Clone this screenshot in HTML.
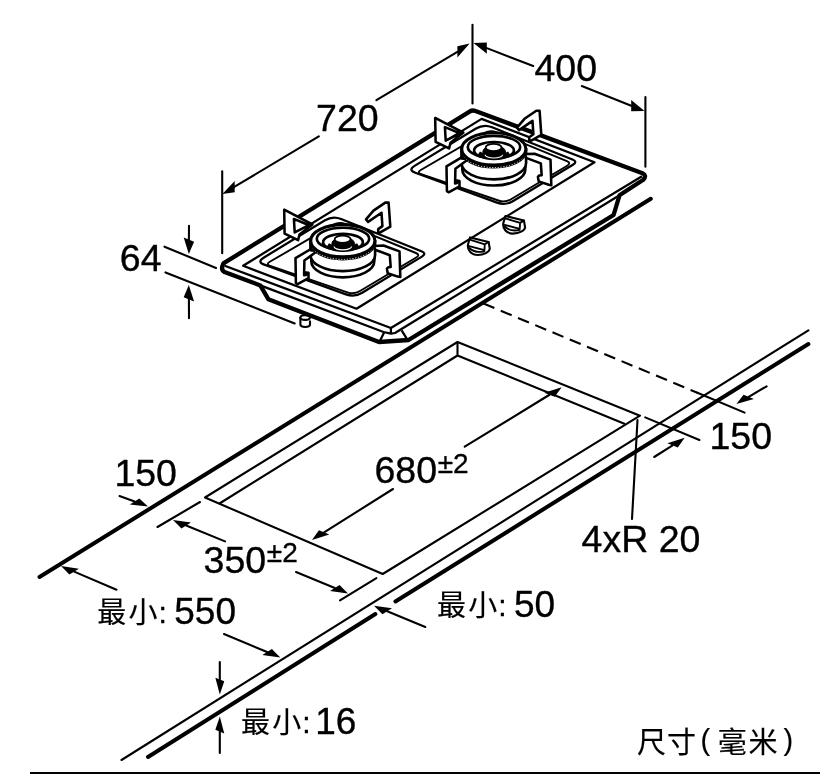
<!DOCTYPE html>
<html lang="zh"><head><meta charset="utf-8"><title>尺寸(毫米)</title>
<style>
html,body{margin:0;padding:0;background:#fff;}
body{width:836px;height:774px;overflow:hidden;}
svg{display:block;will-change:transform;}
svg text{font-family:"Liberation Sans","Noto Sans CJK SC",sans-serif;fill:#000;stroke:#000;stroke-width:0.35px;}
svg text.c{stroke-width:0.15px;}
svg text .n{stroke-width:0.35px;}
</style></head>
<body>
<svg width="836" height="774" viewBox="0 0 836 774" stroke="#000" fill="none" stroke-linejoin="round">
<rect width="836" height="774" fill="#fff" stroke="none"/>
<line x1="39.5" y1="577" x2="650.8" y2="198.8" stroke-width="4.0" stroke-linecap="round" />
<line x1="121.5" y1="760" x2="808.4" y2="330.3" stroke-width="2.1" stroke-linecap="round" />
<line x1="148" y1="757" x2="375.4" y2="614" stroke-width="4.0" stroke-linecap="round" />
<line x1="395.4" y1="601.5" x2="808.4" y2="344" stroke-width="4.0" stroke-linecap="round" />
<path d="M205,497.5 L457.5,342 L640,415.7 L382.7,574 Z" stroke-width="2.1" fill="none" />
<path d="M457.5,342 L457.5,355.5 M219.5,503.5 L457.5,355.5 L625,424" stroke-width="2.1" fill="none" />
<line x1="483.5" y1="303.5" x2="697.4" y2="392.8" stroke-width="2.1" stroke-linecap="butt" stroke-dasharray="11.8 6.9"/>
<line x1="697.4" y1="392.8" x2="744.6" y2="412.6" stroke-width="2.1" stroke-linecap="round" />
<line x1="645.2" y1="417.4" x2="699.4" y2="440" stroke-width="2.1" stroke-linecap="round" />
<line x1="748.72" y1="396.84" x2="766.6" y2="386.3" stroke-width="2.1" stroke-linecap="round"/>
<polygon points="736.4,404.1 753.91,398.94 743.53,394.74" fill="#000" stroke="none"/>
<line x1="672.60" y1="445.42" x2="654.2" y2="457" stroke-width="2.1" stroke-linecap="round"/>
<polygon points="684.7,437.8 677.79,447.52 667.41,443.32" fill="#000" stroke="none"/>
<line x1="637.5" y1="420" x2="632" y2="519" stroke-width="2.1" stroke-linecap="round" />
<line x1="157.5" y1="527" x2="200" y2="502" stroke-width="2.1" stroke-linecap="round" />
<line x1="340" y1="600.3" x2="376.4" y2="578.2" stroke-width="2.1" stroke-linecap="round" />
<line x1="186.22" y1="525.44" x2="225" y2="541.4" stroke-width="2.1" stroke-linecap="round"/>
<polygon points="173,520 190.98,522.49 181.46,528.39" fill="#000" stroke="none"/>
<line x1="334.79" y1="588.04" x2="296" y2="572" stroke-width="2.1" stroke-linecap="round"/>
<polygon points="348,593.5 339.55,585.08 330.03,590.99" fill="#000" stroke="none"/>
<line x1="549.50" y1="394.77" x2="464.7" y2="446.7" stroke-width="2.1" stroke-linecap="round"/>
<polygon points="561.7,387.3 554.70,396.87 544.31,392.67" fill="#000" stroke="none"/>
<line x1="324.10" y1="532.38" x2="393" y2="489" stroke-width="2.1" stroke-linecap="round"/>
<polygon points="312,540 329.29,534.48 318.91,530.28" fill="#000" stroke="none"/>
<line x1="134.58" y1="501.56" x2="119.5" y2="496" stroke-width="2.1" stroke-linecap="round"/>
<polygon points="148,506.5 139.34,498.61 129.82,504.51" fill="#000" stroke="none"/>
<line x1="74.15" y1="571.62" x2="116.5" y2="589.7" stroke-width="2.1" stroke-linecap="round"/>
<polygon points="61,566 78.91,568.66 69.39,574.57" fill="#000" stroke="none"/>
<line x1="267.10" y1="651.99" x2="224" y2="634" stroke-width="2.1" stroke-linecap="round"/>
<polygon points="280.3,657.5 271.86,649.04 262.34,654.94" fill="#000" stroke="none"/>
<line x1="387.22" y1="611.26" x2="425.3" y2="627" stroke-width="2.1" stroke-linecap="round"/>
<polygon points="374,605.8 391.98,608.31 382.46,614.21" fill="#000" stroke="none"/>
<line x1="219.80" y1="679.50" x2="219.8" y2="662" stroke-width="2.1" stroke-linecap="round"/>
<polygon points="219.8,694.5 224.25,681.30 215.35,677.70" fill="#000" stroke="none"/>
<line x1="219.80" y1="731.60" x2="219.8" y2="753" stroke-width="2.1" stroke-linecap="round"/>
<polygon points="219.8,716.6 224.25,733.40 215.35,729.80" fill="#000" stroke="none"/>
<line x1="222.2" y1="171.2" x2="222.2" y2="253.3" stroke-width="2.1" stroke-linecap="round" />
<line x1="472.5" y1="24.8" x2="472.5" y2="103.5" stroke-width="2.1" stroke-linecap="round" />
<line x1="645.4" y1="97" x2="645.4" y2="166.8" stroke-width="2.1" stroke-linecap="round" />
<line x1="234.68" y1="186.67" x2="318.8" y2="136.4" stroke-width="2.1" stroke-linecap="round"/>
<polygon points="222.4,194 234.68,192.27 234.68,181.07" fill="#000" stroke="none"/>
<line x1="457.38" y1="51.93" x2="376.4" y2="100.2" stroke-width="2.1" stroke-linecap="round"/>
<polygon points="469.6,43.5 457.38,57.53 457.38,46.33" fill="#000" stroke="none"/>
<line x1="486.84" y1="48.14" x2="533.2" y2="66" stroke-width="2.1" stroke-linecap="round"/>
<polygon points="473.5,43 486.84,53.74 486.84,42.54" fill="#000" stroke="none"/>
<line x1="631.21" y1="105.72" x2="581.8" y2="86.1" stroke-width="2.1" stroke-linecap="round"/>
<polygon points="644.5,111 631.21,111.32 631.21,100.12" fill="#000" stroke="none"/>
<line x1="164.5" y1="246.7" x2="216" y2="268" stroke-width="2.1" stroke-linecap="round" />
<line x1="165.5" y1="272.4" x2="294.7" y2="323.4" stroke-width="2.1" stroke-linecap="round" />
<line x1="188.90" y1="239.70" x2="189" y2="225.7" stroke-width="2.1" stroke-linecap="round"/>
<polygon points="188.8,254 194.09,241.80 183.71,237.60" fill="#000" stroke="none"/>
<line x1="188.89" y1="299.30" x2="189" y2="318.2" stroke-width="2.1" stroke-linecap="round"/>
<polygon points="188.8,285 194.08,301.40 183.69,297.20" fill="#000" stroke="none"/>
<line x1="30" y1="773.3" x2="820" y2="773.3" stroke-width="2.8" stroke-linecap="butt" />
<text x="316.1" y="130.5" font-size="37.5" >720</text>
<text x="534.5" y="81" font-size="37.5" >400</text>
<text x="119.8" y="270.5" font-size="37.5" >64</text>
<text x="114.4" y="485.6" font-size="37.5" >150</text>
<text x="709.5" y="449" font-size="37.5" >150</text>
<text x="581.6" y="551.5" font-size="37.5" >4xR 20</text>
<text x="374.5" y="483" font-size="37.5" >680<tspan font-size="28" dy="-9.9" dx="0.6">±2</tspan></text>
<text x="203.6" y="572.7" font-size="37.5" >350<tspan font-size="28" dy="-10.6" dx="0.6">±2</tspan></text>
<text x="97.3" y="623" font-size="29" class="c"><tspan letter-spacing="2.3">最小</tspan><tspan class="n" x="158.5" font-size="30">:</tspan> <tspan class="n" x="174.3" y="624.3" font-size="37">550</tspan></text>
<text x="437" y="616" font-size="29" class="c"><tspan letter-spacing="2.3">最小</tspan><tspan class="n" x="498.2" font-size="30">:</tspan> <tspan class="n" x="514.0" y="617.3" font-size="37">50</tspan></text>
<text x="241" y="733" font-size="29" class="c"><tspan letter-spacing="2.3">最小</tspan><tspan class="n" x="302.2" font-size="30">:</tspan> <tspan class="n" x="315.2" y="734.3" font-size="37">16</tspan></text>
<text y="753.4" font-size="29" class="c"><tspan x="637">尺</tspan><tspan x="667">寸</tspan><tspan x="700.4" y="750">(</tspan><tspan x="717.8" y="753.4">毫</tspan><tspan x="748.4">米</tspan><tspan x="783.4" y="750">)</tspan></text>
<path d="M300.4,317 L300.4,324.6 A4.8,2.4 0 0 0 310,324.6 L310,320.5" stroke-width="2.1" fill="#fff"/>
<ellipse cx="305.2" cy="317.6" rx="4.8" ry="2.3" stroke-width="2.1" fill="#fff" />
<path d="M223.4,263.4 L470,111.3 Q472.5,109.8 475.5,111 L642.5,173.2 Q647.2,175.4 643.3,179.8 L619.5,195.3 L613.6,215 L408.5,340 L379,342 L268.3,299.2 L260.3,285.4 L224.5,272 Q220.3,269.8 223.4,263.4 Z" stroke-width="4.3" fill="#fff" stroke-linejoin="round"/>
<path d="M224.7,265.7 L390.9,328 L642,176.3" stroke-width="2.25" fill="none" />
<path d="M390.9,328 L390.9,333.4" stroke-width="2.25" fill="none" />
<path d="M260.3,285.4 L383.5,332 L390.9,333.6 L395,333 L619.5,195.3" stroke-width="2.25" fill="none" />
<path d="M384,332.8 L379.6,341.6 M401.6,330.3 L406.6,338.4" stroke-width="2.25" fill="none" />
<polygon points="243.1,265.8 481.6,118.9 594.5,162.3 356.5,308.7" stroke-width="2.25" fill="none" stroke-linejoin="round" stroke-linecap="round" />
<path d="M264.3,264.6 Q256.8,261.9 263.6,257.7 L325.0,220.3 Q332.7,215.6 341.1,219.0 L421.4,251.3 Q427.0,253.5 421.9,256.6 L362.2,292.8 Q354.5,297.5 346.0,294.4 Z" stroke-width="2.25" fill="none"/>
<path d="M270.2,265.9 Q265.5,264.3 269.8,261.8 L333.2,224.9 Q339.2,221.4 345.7,224.1 L415.9,253.0 Q420.5,254.9 416.2,257.5 L360.0,291.0 Q354.0,294.6 347.4,292.3 Z" stroke-width="1.9" fill="none"/>
<path d="M284.2,209.7 312.4,224.4 299.5,234.5 298.1,240.2 284.6,233.6Z M293.9,218.9 309.0,225.2 294.7,232.4Z" fill="#fff" fill-rule="evenodd" stroke-width="2.55" stroke-linejoin="round"/>
<polygon points="385.3,202.6 388.6,202.6 390.3,226.6 380.3,232.4 378.2,232.9 378.2,229.1 382.4,226.1 381.5,212.7 368.1,221.9 366.0,219.4 373.5,210.6" stroke-width="2.55" fill="#fff" stroke-linejoin="round" stroke-linecap="round" />
<path d="M311.3,252.7 A31.5,16 0 0 0 374.3,252.7 L374.3,261.3 A31.5,16 0 0 1 311.3,261.3 Z" fill="#fff" stroke-width="2.65"/>
<path d="M310.5,240.7 L310.5,254.89999999999998 A32.3,16.3 0 0 0 375.1,254.89999999999998 L375.1,240.7 Z" fill="#fff" stroke-width="2.65"/>
<polygon points="295.5,258.1 316.9,245.5 316.9,251.3 304.4,260.5 304.1,275.3 306.0,274.9 306.0,272.4 308.5,272.8 308.5,278.2 297.6,284.1 295.9,282.9" stroke-width="2.55" fill="#fff" stroke-linejoin="round" stroke-linecap="round" />
<polygon points="374.3,245.9 383.5,245.5 399.5,251.4 400.3,277.0 397.8,276.6 387.7,273.2 386.9,268.6 388.2,267.3 390.7,267.0 389.8,255.2 375.1,249.7" stroke-width="2.55" fill="#fff" stroke-linejoin="round" stroke-linecap="round" />
<polygon points="310.2,244.2 310.2,251.1 317.5,251.5" stroke-width="1" fill="#000" stroke-linejoin="round" stroke-linecap="round" />
<ellipse cx="342.8" cy="243.3" rx="32.3" ry="16.3" stroke-width="1.6" fill="#000" />
<path d="M311.8,246.2 A31.5,16 0 0 0 373.8,246.2" stroke="#fff" stroke-width="1" stroke-dasharray="1.2 1.6" fill="none"/>
<ellipse cx="342.8" cy="240.7" rx="32.1" ry="16.1" stroke-width="3.1" fill="#fff" />
<ellipse cx="343.0" cy="238.8" rx="26.2" ry="11.1" stroke-width="2.65" fill="none" />
<ellipse cx="343.0" cy="242.2" rx="19.9" ry="8.4" stroke-width="2.65" fill="none" />
<path d="M358.2,245.0 A17.2,6.0 0 0 1 327.8,245.0" stroke-width="4.2" fill="none"/>
<ellipse cx="343.2" cy="243.7" rx="11.4" ry="6.6" stroke-width="1" fill="#000" />
<path d="M334.0,246.5 A8.8,3.3 0 0 0 351.6,246.5" stroke="#fff" stroke-width="1.2" fill="none"/>
<ellipse cx="342.6" cy="239.3" rx="7.9" ry="3.7" stroke-width="1.8" fill="#fff" />
<path d="M415.3,172.8 Q407.8,170.1 414.6,165.9 L476.0,128.5 Q483.7,123.8 492.1,127.2 L572.4,159.5 Q578.0,161.7 572.9,164.8 L513.2,201.0 Q505.5,205.7 497.0,202.6 Z" stroke-width="2.25" fill="none"/>
<path d="M421.2,174.1 Q416.5,172.5 420.8,170.0 L484.2,133.1 Q490.2,129.6 496.7,132.3 L566.9,161.2 Q571.5,163.1 567.2,165.7 L511.0,199.2 Q505.0,202.8 498.4,200.5 Z" stroke-width="1.9" fill="none"/>
<path d="M435.2,117.9 463.4,132.6 450.5,142.7 449.1,148.4 435.6,141.8Z M444.9,127.1 460.0,133.4 445.7,140.6Z" fill="#fff" fill-rule="evenodd" stroke-width="2.55" stroke-linejoin="round"/>
<polygon points="536.3,110.8 539.6,110.8 541.3,134.8 531.3,140.6 529.2,141.1 529.2,137.3 533.4,134.3 532.5,120.9 519.1,130.1 517.0,127.6 524.5,118.8" stroke-width="2.55" fill="#fff" stroke-linejoin="round" stroke-linecap="round" />
<path d="M462.3,160.89999999999998 A31.5,16 0 0 0 525.3,160.89999999999998 L525.3,169.49999999999997 A31.5,16 0 0 1 462.3,169.49999999999997 Z" fill="#fff" stroke-width="2.65"/>
<path d="M461.5,148.89999999999998 L461.5,163.09999999999997 A32.3,16.3 0 0 0 526.1,163.09999999999997 L526.1,148.89999999999998 Z" fill="#fff" stroke-width="2.65"/>
<polygon points="446.5,166.3 467.9,153.7 467.9,159.5 455.4,168.7 455.1,183.5 457.0,183.1 457.0,180.6 459.5,181.0 459.5,186.4 448.6,192.3 446.9,191.1" stroke-width="2.55" fill="#fff" stroke-linejoin="round" stroke-linecap="round" />
<polygon points="525.3,154.1 534.5,153.7 550.5,159.6 551.3,185.2 548.8,184.8 538.7,181.4 537.9,176.8 539.2,175.5 541.7,175.2 540.8,163.4 526.1,157.9" stroke-width="2.55" fill="#fff" stroke-linejoin="round" stroke-linecap="round" />
<polygon points="461.2,152.4 461.2,159.3 468.5,159.7" stroke-width="1" fill="#000" stroke-linejoin="round" stroke-linecap="round" />
<ellipse cx="493.8" cy="151.5" rx="32.3" ry="16.3" stroke-width="1.6" fill="#000" />
<path d="M462.8,154.39999999999998 A31.5,16 0 0 0 524.8,154.39999999999998" stroke="#fff" stroke-width="1" stroke-dasharray="1.2 1.6" fill="none"/>
<ellipse cx="493.8" cy="148.9" rx="32.1" ry="16.1" stroke-width="3.1" fill="#fff" />
<ellipse cx="494.0" cy="147.0" rx="26.2" ry="11.1" stroke-width="2.65" fill="none" />
<ellipse cx="494.0" cy="150.4" rx="19.9" ry="8.4" stroke-width="2.65" fill="none" />
<path d="M509.2,153.2 A17.2,6.0 0 0 1 478.8,153.2" stroke-width="4.2" fill="none"/>
<ellipse cx="494.2" cy="151.9" rx="11.4" ry="6.6" stroke-width="1" fill="#000" />
<path d="M485.0,154.7 A8.8,3.3 0 0 0 502.6,154.7" stroke="#fff" stroke-width="1.2" fill="none"/>
<ellipse cx="493.6" cy="147.5" rx="7.9" ry="3.7" stroke-width="1.8" fill="#fff" />
<path d="M 470.1,237.4 L 468.0,244.5 C 467.1,249.5 470.9,255.0 477.6,255.0 C 483.9,255.0 489.4,252.0 489.8,248.7 L 488.6,242.0 Z" fill="#fff" stroke-width="2.1" stroke-linejoin="round"/>
<path d="M 469.7,239.7 L 484.8,244.3 L 488.6,242.0 M 484.8,244.3 L 484.4,250.2 L 469.2,246.2 M 469.5,248.2 C 472.9,251.2 478.9,252.6 484.4,251.3" fill="none" stroke-width="1.9" stroke-linejoin="round" stroke-linecap="round"/>
<path d="M 505.4,216.0 L 503.3,223.1 C 502.4,228.1 506.2,233.6 512.9,233.6 C 519.2,233.6 524.7,230.6 525.1,227.3 L 523.9,220.6 Z" fill="#fff" stroke-width="2.1" stroke-linejoin="round"/>
<path d="M 505.0,218.3 L 520.1,222.9 L 523.9,220.6 M 520.1,222.9 L 519.7,228.8 L 504.5,224.8 M 504.8,226.8 C 508.2,229.8 514.2,231.2 519.7,229.9" fill="none" stroke-width="1.9" stroke-linejoin="round" stroke-linecap="round"/>
</svg>
</body></html>
